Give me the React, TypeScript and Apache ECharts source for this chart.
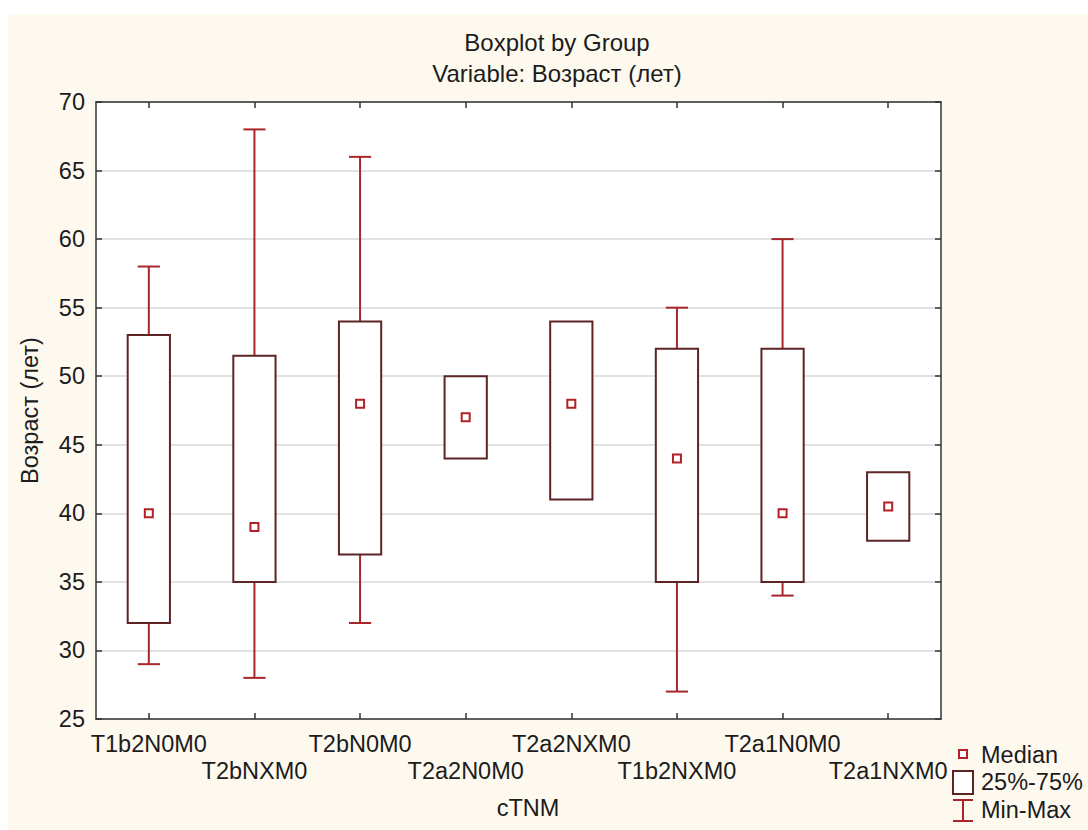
import React, { useEffect, useRef } from "react";
import * as echarts from "echarts";

const categories = ["T1b2N0M0", "T2bNXM0", "T2bN0M0", "T2a2N0M0", "T2a2NXM0", "T1b2NXM0", "T2a1N0M0", "T2a1NXM0"];
const minValues = [29, 28, 32, 44, 41, 27, 34, 38];
const q1Values = [32, 35, 37, 44, 41, 35, 35, 38];
const medianValues = [40, 39, 48, 47, 48, 44, 40, 40.5];
const q3Values = [53, 51.5, 54, 50, 54, 52, 52, 43];
const maxValues = [58, 68, 66, 50, 54, 55, 60, 43];
const yTicks = [25, 30, 35, 40, 45, 50, 55, 60, 65, 70];

const FONT = "'Liberation Sans', Arial, sans-serif";
const FS = 23.5;
const TXT = "#1c1c1c";
const BOX = "#5e2424";
const WHISK = "#a8262a";
const MED = "#b32025";
const CREAM = "#fef9ef";

export default function App() {
  const ref = useRef<HTMLDivElement>(null);
  useEffect(() => {
    if (!ref.current) return;
    const chart = echarts.init(ref.current, null, { renderer: "svg" });
    const data = categories.map((_, i) => [i, minValues[i], q1Values[i], medianValues[i], q3Values[i], maxValues[i]]);
    const axisLine = { show: true, lineStyle: { color: "#333", width: 1.5 } };
    const option: any = {
      animation: false,
      backgroundColor: "#fff",
      graphic: [
        { type: "rect", z: -10, silent: true, shape: { x: 8, y: 14, width: 1080, height: 816 }, style: { fill: CREAM } },
        { type: "text", x: 557, y: 42, style: { text: "Boxplot by Group", font: `24px ${FONT}`, fill: TXT, textAlign: "center", textVerticalAlign: "middle" } },
        { type: "text", x: 557, y: 73, style: { text: "Variable: Возраст (лет)", font: `24px ${FONT}`, fill: TXT, textAlign: "center", textVerticalAlign: "middle" } },
        { type: "text", x: 528, y: 808, style: { text: "cTNM", font: `${FS}px ${FONT}`, fill: TXT, textAlign: "center", textVerticalAlign: "middle" } },
        { type: "rect", shape: { x: 959, y: 750, width: 8, height: 8 }, style: { fill: "#fff", stroke: MED, lineWidth: 2 } },
        { type: "rect", shape: { x: 953, y: 771, width: 20, height: 23 }, style: { fill: "#fff", stroke: BOX, lineWidth: 2 } },
        { type: "line", shape: { x1: 963, y1: 800, x2: 963, y2: 821 }, style: { stroke: WHISK, lineWidth: 2 } },
        { type: "line", shape: { x1: 953, y1: 800, x2: 973, y2: 800 }, style: { stroke: WHISK, lineWidth: 2 } },
        { type: "line", shape: { x1: 953, y1: 821, x2: 973, y2: 821 }, style: { stroke: WHISK, lineWidth: 2 } },
        { type: "text", x: 981, y: 755, style: { text: "Median", font: `${FS}px ${FONT}`, fill: TXT, textVerticalAlign: "middle" } },
        { type: "text", x: 981, y: 782, style: { text: "25%-75%", font: `${FS}px ${FONT}`, fill: TXT, textVerticalAlign: "middle" } },
        { type: "text", x: 981, y: 810, style: { text: "Min-Max", font: `${FS}px ${FONT}`, fill: TXT, textVerticalAlign: "middle" } },
      ],
      grid: { left: 96, top: 102, right: 147, bottom: 111, show: true, backgroundColor: "#fff", borderWidth: 0 },
      xAxis: [
        {
          type: "category",
          data: categories,
          position: "bottom",
          boundaryGap: true,
          axisLine,
          axisTick: { show: true, inside: true, length: 6, alignWithLabel: true, lineStyle: { color: "#333", width: 1.5 } },
          axisLabel: {
            interval: 0,
            margin: 11,
            lineHeight: 27,
            fontSize: FS,
            fontFamily: FONT,
            color: TXT,
            formatter: (v: string, i: number) => (i % 2 === 1 ? "\n" + v : v),
          },
          splitLine: { show: false },
        },
        {
          type: "category",
          data: categories,
          position: "top",
          boundaryGap: true,
          axisLine,
          axisTick: { show: true, inside: true, length: 6, alignWithLabel: true, lineStyle: { color: "#333", width: 1.5 } },
          axisLabel: { show: false },
        },
      ],
      yAxis: [
        {
          type: "value",
          min: yTicks[0],
          max: yTicks[yTicks.length - 1],
          interval: 5,
          position: "left",
          name: "Возраст (лет)",
          nameLocation: "middle",
          nameGap: 54,
          nameTextStyle: { fontSize: FS, fontFamily: FONT, color: TXT },
          axisLine,
          axisTick: { show: true, inside: true, length: 6, lineStyle: { color: "#333", width: 1.5 } },
          axisLabel: { margin: 11, fontSize: FS, fontFamily: FONT, color: TXT },
          splitLine: { show: true, lineStyle: { color: "#d9d9d9", width: 1.5 } },
        },
        {
          type: "value",
          min: yTicks[0],
          max: yTicks[yTicks.length - 1],
          interval: 5,
          position: "right",
          axisLine,
          axisTick: { show: true, inside: true, length: 6, lineStyle: { color: "#333", width: 1.5 } },
          axisLabel: { show: false },
          splitLine: { show: false },
        },
      ],
      series: [
        {
          type: "custom",
          xAxisIndex: 0,
          yAxisIndex: 0,
          data,
          encode: { x: 0, y: [1, 2, 3, 4, 5] },
          renderItem: (params: any, api: any) => {
            const x = api.value(0);
            const lo = api.value(1);
            const q1 = api.value(2);
            const med = api.value(3);
            const q3 = api.value(4);
            const hi = api.value(5);
            const pLo = api.coord([x, lo]);
            const pQ1 = api.coord([x, q1]);
            const pMed = api.coord([x, med]);
            const pQ3 = api.coord([x, q3]);
            const pHi = api.coord([x, hi]);
            const band = api.size([1, 0])[0];
            const bw = band * 0.4;
            const cw = band * 0.21;
            const cx = pMed[0];
            const children: any[] = [];
            const ws = { stroke: WHISK, lineWidth: 2 };
            if (hi > q3) {
              children.push({ type: "line", shape: { x1: cx, y1: pQ3[1], x2: cx, y2: pHi[1] }, style: ws });
              children.push({ type: "line", shape: { x1: cx - cw / 2, y1: pHi[1], x2: cx + cw / 2, y2: pHi[1] }, style: ws });
            }
            if (lo < q1) {
              children.push({ type: "line", shape: { x1: cx, y1: pQ1[1], x2: cx, y2: pLo[1] }, style: ws });
              children.push({ type: "line", shape: { x1: cx - cw / 2, y1: pLo[1], x2: cx + cw / 2, y2: pLo[1] }, style: ws });
            }
            children.push({
              type: "rect",
              shape: { x: cx - bw / 2, y: pQ3[1], width: bw, height: pQ1[1] - pQ3[1] },
              style: { fill: "#fff", stroke: BOX, lineWidth: 2 },
            });
            children.push({
              type: "rect",
              shape: { x: cx - 4, y: pMed[1] - 4, width: 8, height: 8 },
              style: { fill: "#fff", stroke: MED, lineWidth: 2 },
            });
            return { type: "group", children };
          },
        },
      ],
    };
    chart.setOption(option);
    return () => chart.dispose();
  }, []);
  return (
    <div style={{ position: "fixed", left: 0, top: 0, width: 1088, height: 830 }}>
      <div ref={ref} style={{ width: 1088, height: 830 }} />
    </div>
  );
}
